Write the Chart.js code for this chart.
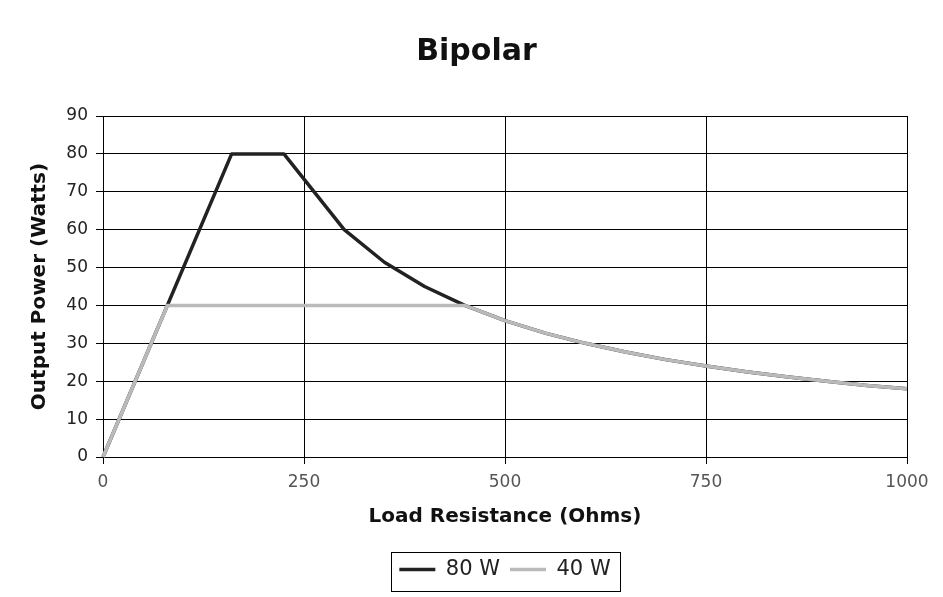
<!DOCTYPE html>
<html>
<head>
<meta charset="utf-8">
<title>Bipolar</title>
<script src="https://cdn.jsdelivr.net/npm/chart.js@4.4.1/dist/chart.umd.min.js"></script>
<style>
  html, body { margin: 0; padding: 0; background: #fff; }
  #wrap { width: 943px; height: 597px; }
</style>
</head>
<body>
<div id="wrap"><canvas id="myChart" width="943" height="597"></canvas></div>
<script>
// Load resistance (Ohms) and output power (Watts) for each amplifier rating
var ohms80 = [0, 160, 225, 300, 350, 400, 450, 500, 550, 600, 650, 700, 750, 800, 850, 900, 950, 1000];
var watts80 = [0, 80, 80, 60, 51.4, 45, 40, 36, 32.7, 30, 27.7, 25.7, 24, 22.5, 21.2, 20, 18.9, 18];
var ohms40 = [0, 80, 450, 500, 550, 600, 650, 700, 750, 800, 850, 900, 950, 1000];
var watts40 = [0, 40, 40, 36, 32.7, 30, 27.7, 25.7, 24, 22.5, 21.2, 20, 18.9, 18];
var seriesNames = ['80 W', '40 W'];
var xTicks = [0, 250, 500, 750, 1000];

var FONT = "'DejaVu Sans', Verdana, sans-serif";

function points(xs, ys) {
    return xs.map(function (x, i) { return { x: x, y: ys[i] }; });
}

// box drawn around the legend row
var legendFrame = {
    id: 'legendFrame',
    afterDraw: function (chart) {
        var boxes = chart.legend.legendHitBoxes;
        if (!boxes || !boxes.length) return;
        var left = Math.min.apply(null, boxes.map(function (b) { return b.left; }));
        var right = Math.max.apply(null, boxes.map(function (b) { return b.left + b.width; }));
        var top = boxes[0].top;
        var ctx = chart.ctx;
        ctx.save();
        ctx.strokeStyle = '#000';
        ctx.lineWidth = 1;
        ctx.strokeRect(Math.round(left - 8) + 0.5, Math.round(top - 7) + 0.5, Math.round(right - left + 18), 39);
        ctx.restore();
    }
};

var ctx = document.getElementById('myChart').getContext('2d');
new Chart(ctx, {
    type: 'line',
    data: {
        datasets: [
            {
                label: seriesNames[0],
                data: points(ohms80, watts80),
                borderColor: '#222222',
                backgroundColor: '#222222',
                borderWidth: 3.5,
                pointRadius: 0,
                borderJoinStyle: 'round',
                tension: 0,
                clip: 4,
                order: 1
            },
            {
                label: seriesNames[1],
                data: points(ohms40, watts40),
                borderColor: '#bababa',
                backgroundColor: '#bababa',
                borderWidth: 3.5,
                pointRadius: 0,
                borderJoinStyle: 'round',
                tension: 0,
                clip: 4,
                order: 0
            }
        ]
    },
    options: {
        responsive: false,
        animation: false,
        layout: { padding: { left: 10, right: 0, top: 0, bottom: 7 } },
        plugins: {
            title: {
                display: true,
                text: 'Bipolar',
                color: '#111',
                font: { family: FONT, size: 30, weight: 'bold' },
                padding: { top: 34, bottom: 46 }
            },
            legend: {
                position: 'bottom',
                fullSize: false,
                labels: {
                    color: '#222',
                    font: { family: FONT, size: 21 },
                    usePointStyle: true,
                    pointStyle: 'line',
                    pointStyleWidth: 36,
                    padding: 10,
                    sort: function (a, b) { return a.datasetIndex - b.datasetIndex; }
                }
            },
            tooltip: { enabled: false }
        },
        scales: {
            x: {
                type: 'linear',
                min: 0,
                max: 1000,
                afterBuildTicks: function (scale) {
                    scale.ticks = xTicks.map(function (v) { return { value: v }; });
                },
                afterFit: function (scale) { scale.height = 92; },
                grid: { color: '#000', lineWidth: 1, tickLength: 7 },
                border: { color: '#000', width: 1 },
                ticks: {
                    color: '#555',
                    padding: 8,
                    maxRotation: 0,
                    font: { family: FONT, size: 17 },
                    callback: function (v) { return String(v); }
                },
                title: {
                    display: true,
                    text: 'Load Resistance (Ohms)',
                    color: '#111',
                    font: { family: FONT, size: 20, weight: 'bold' },
                    padding: { top: 0, bottom: 20 }
                }
            },
            y: {
                min: 0,
                max: 90,
                afterFit: function (scale) { scale.width = 93; },
                grid: { color: '#000', lineWidth: 1, tickLength: 7 },
                border: { color: '#000', width: 1 },
                ticks: {
                    stepSize: 10,
                    color: '#222',
                    padding: 8,
                    font: { family: FONT, size: 17 }
                },
                title: {
                    display: true,
                    text: 'Output Power (Watts)',
                    color: '#111',
                    font: { family: FONT, size: 20, weight: 'bold' },
                    padding: { top: 18, bottom: 0 }
                }
            },
            // empty right-hand axis that only reserves margin
            spacer: {
                type: 'linear',
                position: 'right',
                display: true,
                afterFit: function (scale) { scale.width = 36; },
                grid: { display: false, drawTicks: false },
                border: { display: false },
                ticks: { display: false }
            }
        }
    },
    plugins: [legendFrame]
});
</script>
</body>
</html>
